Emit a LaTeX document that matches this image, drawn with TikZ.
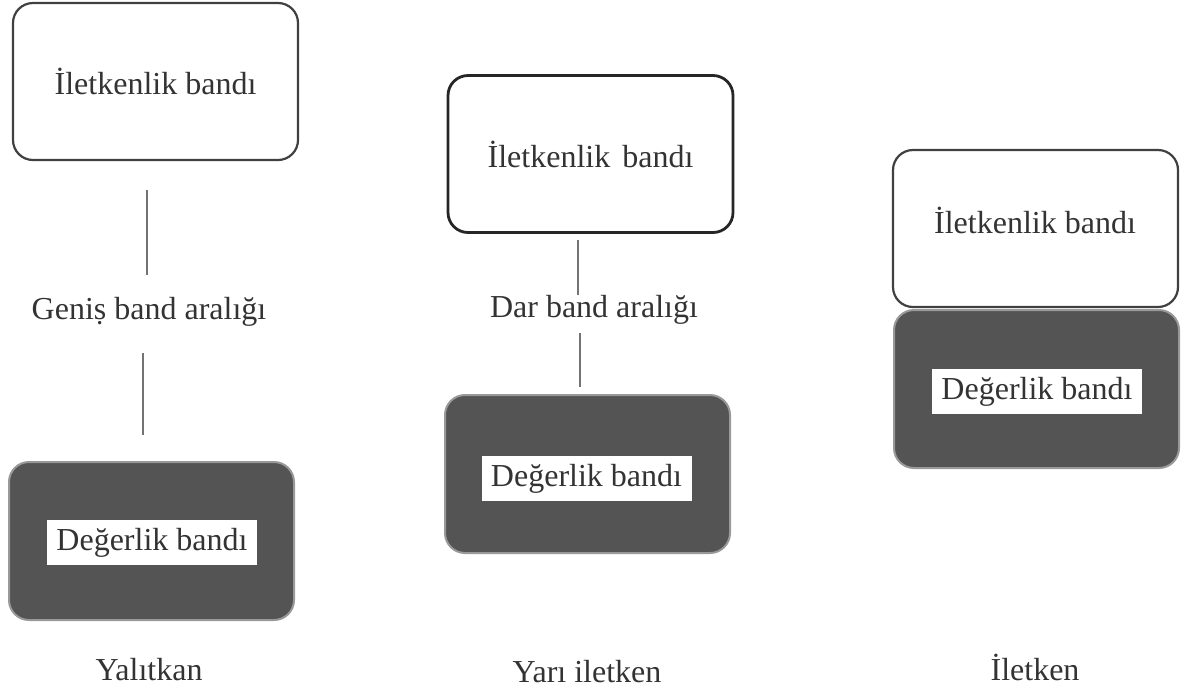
\documentclass[tikz,border=0pt]{standalone}
\usepackage{fontspec}
\setmainfont{Liberation Serif}
\newcommand{\bandW}{142.5pt}
\newcommand{\bandH}{78.5pt}
\begin{document}
\begin{tikzpicture}[x=0.5pt,y=-0.5pt,
  every node/.style={font=\fontsize{16}{19}\selectfont, text=black!80},
  condband/.style={draw=black!75, line width=1.1pt, rounded corners=10pt, fill=white, minimum width=\bandW, minimum height=\bandH, inner sep=0pt},
  valband/.style={draw=black!40, line width=1pt, rounded corners=10pt, fill=black!67, minimum width=\bandW, minimum height=79pt},
  vallabel/.style={fill=white, minimum width=105pt, minimum height=22.5pt, inner sep=0pt},
  gapline/.style={draw=black!55, line width=1.4pt}]

\useasboundingbox (0,0) rectangle (1186,697);

% Yalitkan
\node[condband] (ilet1) at (155.5,81.5) {İletkenlik bandı};
\node[valband] (val1) at (151.5,541) {};
\node[vallabel] (vallab1) at (152,542.5) {Değerlik bandı};
\node (gap1) at (149,312) {Geniṣ band aralığı};
\coordinate (g1a) at (147,190);
\coordinate (g1b) at (147,275);
\coordinate (g1c) at (143,353);
\coordinate (g1d) at (143,435);
\draw[gapline] (g1a) -- (g1b);
\draw[gapline] (g1c) -- (g1d);
\node (mat1) at (149,670) {Yalıtkan};

% Yari iletken
\node[condband, draw=black!85, line width=1.4pt] (ilet2) at (590.5,154) {İletkenlik\hspace{2pt} bandı};
\node[valband] (val2) at (587.5,474) {};
\node[vallabel] (vallab2) at (586.5,478.5) {Değerlik bandı};
\node (gap2) at (594,310) {Dar band aralığı};
\coordinate (g2a) at (578,240);
\coordinate (g2b) at (578,295);
\coordinate (g2c) at (580,333);
\coordinate (g2d) at (580,387);
\draw[gapline] (g2a) -- (g2b);
\draw[gapline] (g2c) -- (g2d);
\node (mat2) at (587,672) {Yarı iletken};

% Iletken
\node[condband] (ilet3) at (1035.5,228.5) {};
\node (iletlab3) at (1035,220) {İletkenlik bandı};
\node[valband] (val3) at (1036.5,389) {};
\node[vallabel] (vallab3) at (1037,391.5) {Değerlik bandı};
\node (mat3) at (1035,667) {İletken};

\end{tikzpicture}
\end{document}
